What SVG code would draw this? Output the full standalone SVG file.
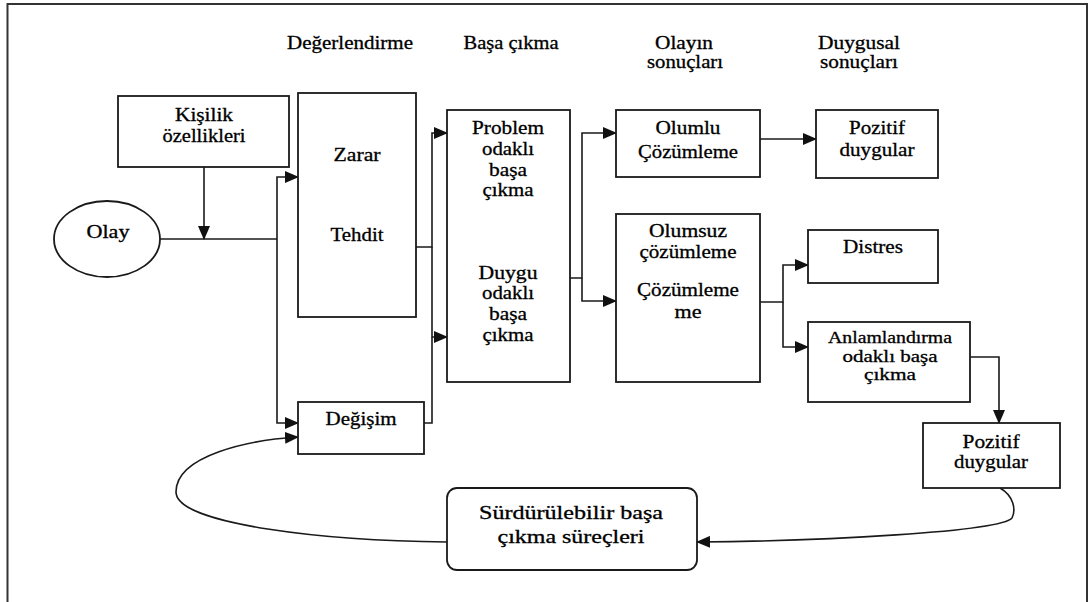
<svg xmlns="http://www.w3.org/2000/svg" width="1092" height="602" viewBox="0 0 1092 602" font-family="'Liberation Serif', 'DejaVu Serif', serif">
<style>
.b{fill:#fff;stroke:#1a1a1a;stroke-width:1.8}
.c{fill:none;stroke:#1a1a1a;stroke-width:1.6}
text{font-family:'Liberation Serif','DejaVu Serif',serif;font-size:18px;fill:#000;stroke:#000;stroke-width:0.3;text-anchor:middle}
.s{font-size:16px}
</style>
<defs>
<marker id="a" markerUnits="userSpaceOnUse" markerWidth="14" markerHeight="12" refX="13" refY="6" orient="auto">
<path d="M0,0 L14,6 L0,12 Z" fill="#111"/>
</marker>
</defs>
<rect width="1092" height="602" fill="#fff"/>
<path d="M7.5,602 V4 H1087 V602" fill="none" stroke="#333" stroke-width="2"/>
<g id="headers">
<text x="350" y="49" textLength="126" lengthAdjust="spacingAndGlyphs">Değerlendirme</text>
<text x="511" y="49" textLength="95" lengthAdjust="spacingAndGlyphs">Başa çıkma</text>
<text x="684" y="49" textLength="58" lengthAdjust="spacingAndGlyphs">Olayın</text>
<text x="685" y="68" textLength="76" lengthAdjust="spacingAndGlyphs">sonuçları</text>
<text x="859" y="49" textLength="82" lengthAdjust="spacingAndGlyphs">Duygusal</text>
<text x="859" y="68" textLength="78" lengthAdjust="spacingAndGlyphs">sonuçları</text>
</g>
<g id="connectors">
<path class="c" d="M204,167 V239" marker-end="url(#a)"/>
<path class="c" d="M160,239 H277"/>
<path class="c" d="M277,239 V177 H298" marker-end="url(#a)"/>
<path class="c" d="M277,239 V423 H298" marker-end="url(#a)"/>
<path class="c" d="M416,247 H432 V133 H447" marker-end="url(#a)"/>
<path class="c" d="M432,247 V337 H447" marker-end="url(#a)"/>
<path class="c" d="M424,423 H432 V337"/>
<path class="c" d="M570,278 H582 V133 H616" marker-end="url(#a)"/>
<path class="c" d="M582,278 V301 H616" marker-end="url(#a)"/>
<path class="c" d="M760,139 H816" marker-end="url(#a)"/>
<path class="c" d="M760,302 H783 V265 H808" marker-end="url(#a)"/>
<path class="c" d="M783,302 V347 H808" marker-end="url(#a)"/>
<path class="c" d="M970,357 H999 V423" marker-end="url(#a)"/>
<path class="c" d="M1000,488 C1014,496 1016,510 1012,518 C1000,532 820,541 697,542" marker-end="url(#a)"/>
<path class="c" d="M447,542 C330,541 176,525 176,492 C176,455 250,440 298,437" marker-end="url(#a)"/>
</g>
<g id="olay">
<ellipse class="b" cx="107" cy="239" rx="53" ry="38"/>
<text x="108" y="238" textLength="43" lengthAdjust="spacingAndGlyphs">Olay</text>
</g>
<g id="kisilik">
<rect class="b" x="118" y="96" width="171" height="71"/>
<text x="204" y="121" textLength="58" lengthAdjust="spacingAndGlyphs">Kişilik</text>
<text x="204" y="142" textLength="83" lengthAdjust="spacingAndGlyphs">özellikleri</text>
</g>
<g id="zarar">
<rect class="b" x="298" y="93" width="118" height="224"/>
<text x="357" y="161" textLength="47" lengthAdjust="spacingAndGlyphs">Zarar</text>
<text x="357" y="241" textLength="53" lengthAdjust="spacingAndGlyphs">Tehdit</text>
</g>
<g id="degisim">
<rect class="b" x="298" y="402" width="126" height="52"/>
<text x="361" y="425" textLength="71" lengthAdjust="spacingAndGlyphs">Değişim</text>
</g>
<g id="basa">
<rect class="b" x="447" y="110" width="123" height="272"/>
<text x="508" y="134" textLength="72" lengthAdjust="spacingAndGlyphs">Problem</text>
<text x="508" y="155" textLength="52" lengthAdjust="spacingAndGlyphs">odaklı</text>
<text x="508" y="176" textLength="38" lengthAdjust="spacingAndGlyphs">başa</text>
<text x="508" y="196" textLength="51" lengthAdjust="spacingAndGlyphs">çıkma</text>
<text x="508" y="279" textLength="59" lengthAdjust="spacingAndGlyphs">Duygu</text>
<text x="508" y="299" textLength="52" lengthAdjust="spacingAndGlyphs">odaklı</text>
<text x="508" y="320" textLength="38" lengthAdjust="spacingAndGlyphs">başa</text>
<text x="508" y="341" textLength="51" lengthAdjust="spacingAndGlyphs">çıkma</text>
</g>
<g id="olumlu">
<rect class="b" x="616" y="110" width="144" height="67"/>
<text x="688" y="134" textLength="65" lengthAdjust="spacingAndGlyphs">Olumlu</text>
<text x="688" y="158" textLength="100" lengthAdjust="spacingAndGlyphs">Çözümleme</text>
</g>
<g id="olumsuz">
<rect class="b" x="616" y="214" width="144" height="168"/>
<text x="688" y="237" textLength="78" lengthAdjust="spacingAndGlyphs">Olumsuz</text>
<text x="688" y="258" textLength="97" lengthAdjust="spacingAndGlyphs">çözümleme</text>
<text x="688" y="296" textLength="102" lengthAdjust="spacingAndGlyphs">Çözümleme</text>
<text x="688" y="318" textLength="27" lengthAdjust="spacingAndGlyphs">me</text>
</g>
<g id="pozitif1">
<rect class="b" x="816" y="110" width="122" height="68"/>
<text x="877" y="134" textLength="56" lengthAdjust="spacingAndGlyphs">Pozitif</text>
<text x="877" y="156" textLength="75" lengthAdjust="spacingAndGlyphs">duygular</text>
</g>
<g id="distres">
<rect class="b" x="808" y="230" width="130" height="53"/>
<text x="873" y="253" textLength="60" lengthAdjust="spacingAndGlyphs">Distres</text>
</g>
<g id="anlamlandirma">
<rect class="b" x="808" y="322" width="162" height="80"/>
<text class="s" x="890" y="343" textLength="124" lengthAdjust="spacingAndGlyphs">Anlamlandırma</text>
<text class="s" x="890" y="362" textLength="95" lengthAdjust="spacingAndGlyphs">odaklı başa</text>
<text class="s" x="890" y="380" textLength="52" lengthAdjust="spacingAndGlyphs">çıkma</text>
</g>
<g id="pozitif2">
<rect class="b" x="923" y="423" width="137" height="65"/>
<text x="991" y="448" textLength="57" lengthAdjust="spacingAndGlyphs">Pozitif</text>
<text x="991" y="468" textLength="74" lengthAdjust="spacingAndGlyphs">duygular</text>
</g>
<g id="surdurulebilir">
<rect class="b" x="447" y="488" width="250" height="82" rx="10"/>
<text x="571" y="519" textLength="184" lengthAdjust="spacingAndGlyphs">Sürdürülebilir başa</text>
<text x="571" y="543" textLength="147" lengthAdjust="spacingAndGlyphs">çıkma süreçleri</text>
</g>
</svg>
